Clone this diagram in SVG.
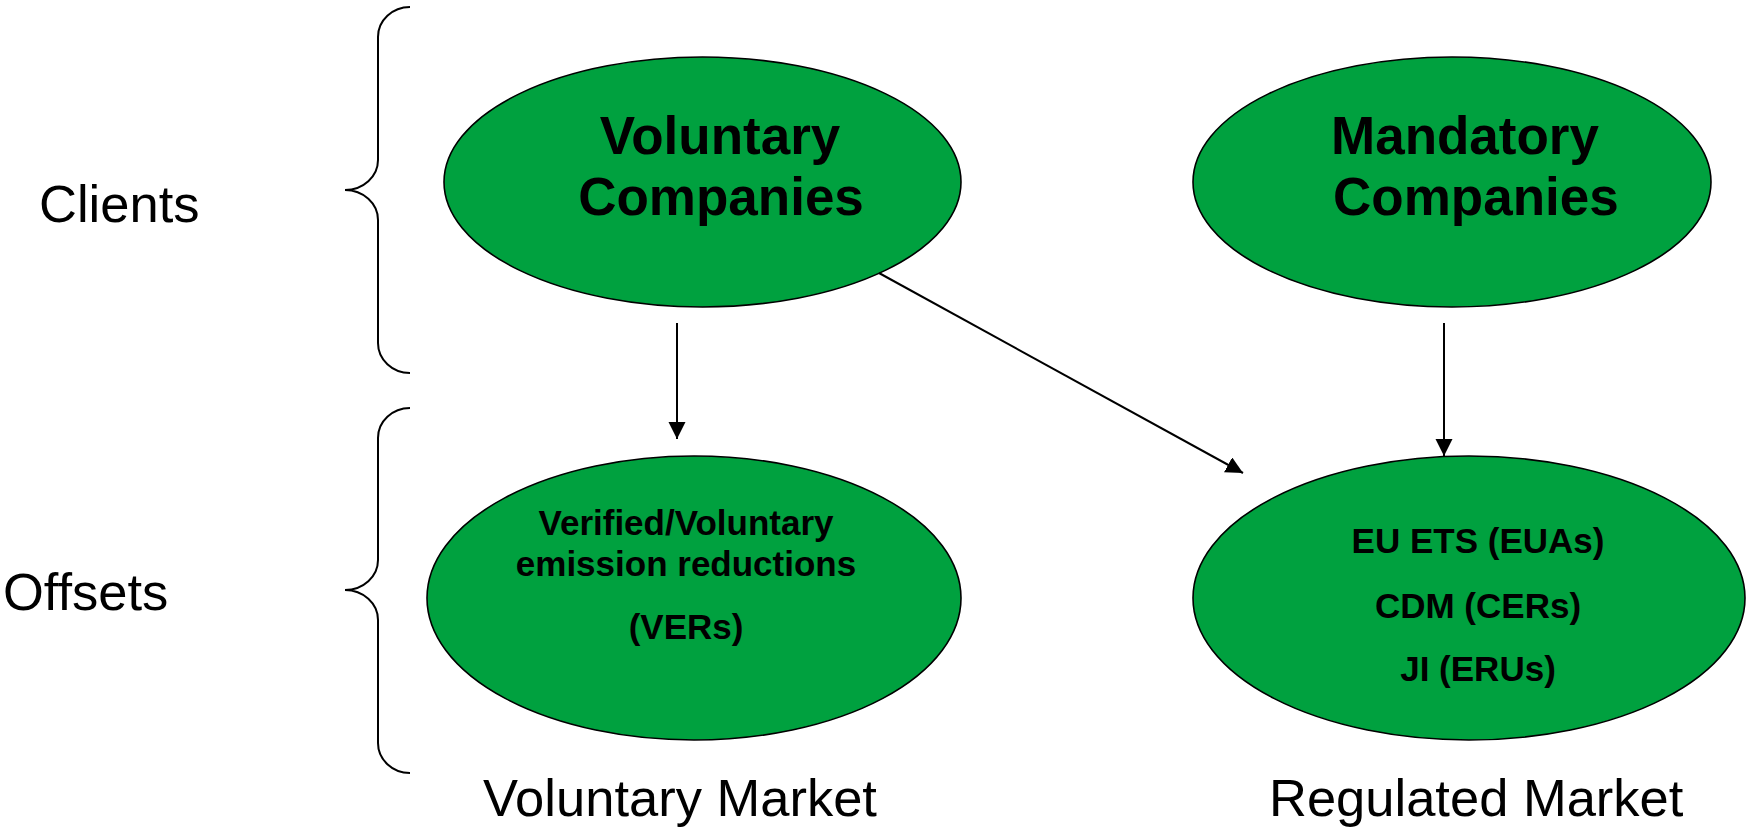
<svg xmlns="http://www.w3.org/2000/svg" width="1748" height="832" viewBox="0 0 1748 832">
<style>
.node ellipse{fill:#00A13F;stroke:#000;stroke-width:1.6}
.bold{font-family:"Liberation Sans",Arial,sans-serif;font-weight:bold;fill:#000}
.big{font-size:53px}
.small{font-size:35px}
.lab{font-family:"Liberation Sans",Arial,sans-serif;font-size:52.5px;fill:#000}
.brace{fill:none;stroke:#000;stroke-width:2}
.conn line{stroke:#000;stroke-width:2}
</style>
<defs>
<marker id="ah" markerUnits="userSpaceOnUse" markerWidth="18" markerHeight="18" refX="17" refY="8.5" orient="auto">
<path d="M0,0 L17,8.5 L0,17 Z" fill="#000"/>
</marker>
</defs>
<rect width="1748" height="832" fill="#fff"/>
<g id="braces">
<path class="brace" d="M410,7 A32,30 0 0 0 378,37 L378,160 A33,30 0 0 1 345,190 A33,30 0 0 1 378,220 L378,343 A32,30 0 0 0 410,373"/>
<path class="brace" d="M410,408 A32,30 0 0 0 378,438 L378,560 A33,30 0 0 1 345,590 A33,30 0 0 1 378,620 L378,743 A32,30 0 0 0 410,773"/>
</g>
<g id="labels">
<text class="lab" x="39" y="222">Clients</text>
<text class="lab" x="3" y="610">Offsets</text>
<text class="lab" x="483" y="816">Voluntary Market</text>
<text class="lab" x="1269" y="816">Regulated Market</text>
</g>
<g id="voluntary-companies" class="node">
<ellipse cx="702.5" cy="182" rx="258.5" ry="125"/>
<text class="bold big" x="720" y="154" text-anchor="middle">Voluntary</text>
<text class="bold big" x="721" y="215" text-anchor="middle">Companies</text>
</g>
<g id="mandatory-companies" class="node">
<ellipse cx="1452" cy="182" rx="259" ry="125"/>
<text class="bold big" x="1331" y="154">Mandatory</text>
<text class="bold big" x="1333" y="215">Companies</text>
</g>
<g id="vers" class="node">
<ellipse cx="694" cy="598" rx="267" ry="142"/>
<text class="bold small" x="686" y="535" text-anchor="middle">Verified/Voluntary</text>
<text class="bold small" x="686" y="576" text-anchor="middle">emission reductions</text>
<text class="bold small" x="686" y="639" text-anchor="middle">(VERs)</text>
</g>
<g id="regulated" class="node">
<ellipse cx="1469" cy="598" rx="276" ry="142"/>
<text class="bold small" x="1478" y="553" text-anchor="middle">EU ETS (EUAs)</text>
<text class="bold small" x="1478" y="618" text-anchor="middle">CDM (CERs)</text>
<text class="bold small" x="1478" y="681" text-anchor="middle">JI (ERUs)</text>
</g>
<g id="connectors" class="conn">
<line x1="677" y1="323" x2="677" y2="439" marker-end="url(#ah)"/>
<line x1="1444" y1="323" x2="1444" y2="456" marker-end="url(#ah)"/>
<line x1="879" y1="273" x2="1243" y2="473" marker-end="url(#ah)"/>
</g>
</svg>
